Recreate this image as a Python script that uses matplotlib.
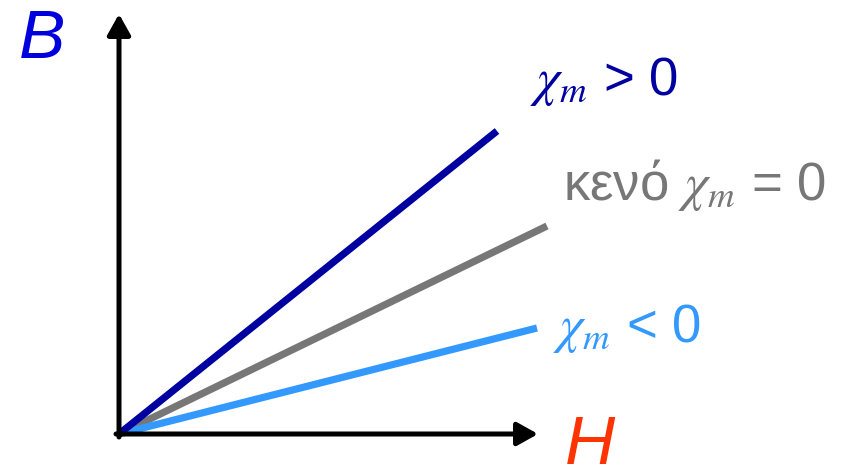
import matplotlib.pyplot as plt
import numpy as np

plt.rcParams['mathtext.fontset'] = 'custom'
plt.rcParams['mathtext.it'] = 'STIXGeneral:italic'
plt.rcParams['mathtext.rm'] = 'Liberation Sans'
plt.rcParams['font.family'] = ['Liberation Sans', 'DejaVu Sans']

# line end points (H, B), origin at (0, 0)
H_end = [378, 428, 418]
B_end = [303, 208, 106]
labels = [r'$\chi_m$ > 0', r'κενό $\chi_m$ = 0', r'$\chi_m$ < 0']
colors = ['#0000a0', '#777777', '#3399ff']
label_pos = [(411, 339), (444, 234), (434, 92)]

fig = plt.figure(figsize=(8.48, 4.70), dpi=100)
ax = fig.add_axes([0, 0, 1, 1])
ax.set_xlim(-119, 729)
ax.set_ylim(-36, 434)
ax.axis('off')

# lines (gray under blue like in reference)
for i in [1, 2, 0]:
    ax.plot([0, H_end[i]], [0, B_end[i]], color=colors[i], lw=5.2,
            solid_capstyle='butt', zorder=2)

for i in range(3):
    ax.text(label_pos[i][0], label_pos[i][1], labels[i], color=colors[i],
            fontsize=38, ha='left', va='baseline')

# axes arrows
ax.annotate('', xy=(0, 420), xytext=(0, -3),
            arrowprops=dict(arrowstyle='-|>,head_length=1.25,head_width=0.7',
                            lw=3.6, color='black', shrinkA=0, shrinkB=0), zorder=3)
ax.annotate('', xy=(419, 0), xytext=(-3, 0),
            arrowprops=dict(arrowstyle='-|>,head_length=1.25,head_width=0.7',
                            lw=3.6, color='black', shrinkA=0, shrinkB=0), zorder=3)

ax.text(-100, 376, 'B', color='#0000dd', fontsize=50, style='italic',
        ha='left', va='baseline')
ax.text(446, -30, 'H', color='#ff3300', fontsize=50, style='italic',
        ha='left', va='baseline')

fig.savefig('out.png', dpi=100)
